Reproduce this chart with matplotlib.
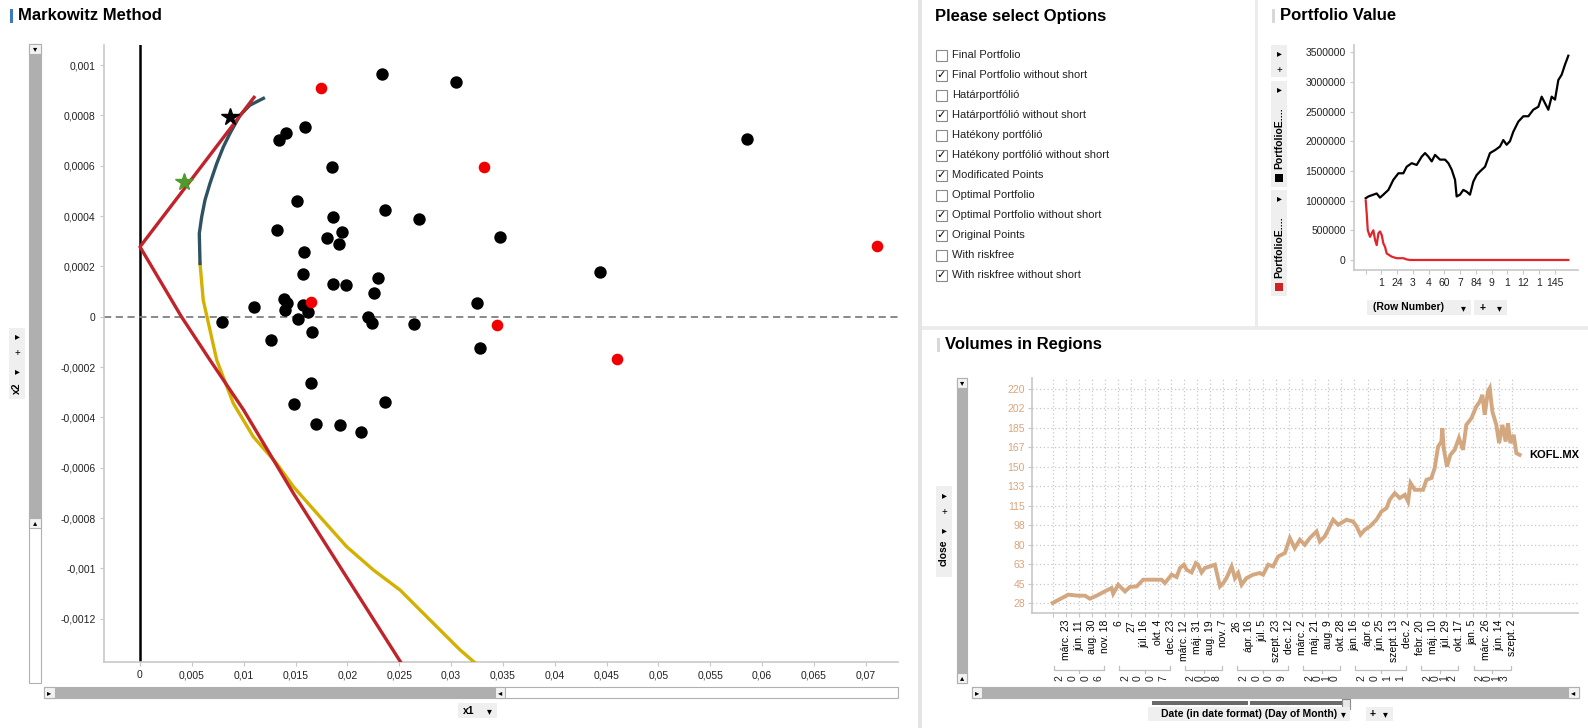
import numpy as np
import matplotlib
matplotlib.use("Agg")
import matplotlib.pyplot as plt
from matplotlib.patches import Rectangle
from matplotlib.ticker import FuncFormatter

plt.rcParams['font.family'] = ['Liberation Sans', 'DejaVu Sans']

# ───── Markowitz data ─────
orig_x = [0.02334, 0.0305, 0.01592, 0.01408, 0.01344, 0.01852, 0.01514, 0.02366, 0.02694, 0.01862,
          0.01322, 0.01952, 0.01807, 0.01920, 0.01582, 0.01572, 0.01865, 0.0199, 0.02296, 0.0226,
          0.01389, 0.01418, 0.011, 0.01576, 0.01399, 0.01624, 0.02203, 0.01524, 0.02241, 0.00794,
          0.02646, 0.01659, 0.01267, 0.05849, 0.03473, 0.0444, 0.03254, 0.03283, 0.0165, 0.01486,
          0.02366, 0.017, 0.01929, 0.02135]
orig_y = [0.000964, 0.000931, 0.000755, 0.000731, 0.000701, 0.000597, 0.000461, 0.000423, 0.000389, 0.000395,
          0.000343, 0.000335, 0.000314, 0.00029, 0.000256, 0.000171, 0.000131, 0.000125, 0.000153, 0.000093,
          0.000072, 0.000053, 0.000037, 0.000046, 0.000025, 0.000017, 0.0, -0.000009, -0.000026, -0.000022,
          -0.00003, -0.000062, -0.000094, 0.000705, 0.000315, 0.000176, 0.000053, -0.000126, -0.000265, -0.000348,
          -0.00034, -0.000428, -0.000432, -0.000459]
mod_x = [0.01746, 0.03322, 0.07103, 0.01653, 0.03447, 0.04603]
mod_y = [0.00091, 0.000594, 0.00028, 0.000057, -0.000034, -0.000169]

riskfree_x = [0.0110, 0.0, 0.0040, 0.00675, 0.0100, 0.0148, 0.0199, 0.0251, 0.0256]
riskfree_y = [0.000872, 0.000278, 0.0, -0.000172, -0.000371, -0.000702, -0.001033, -0.00137, -0.0014]
efficient_x = [0.00579, 0.00572, 0.00595, 0.00627, 0.00675, 0.0074, 0.00804, 0.00868, 0.00965, 0.01061, 0.0119]
efficient_y = [0.000212, 0.000331, 0.000397, 0.000464, 0.00053, 0.000609, 0.000675, 0.000729, 0.000801,
               0.000841, 0.000868]
frontier_x = [0.00579, 0.0061, 0.0074, 0.0090, 0.01093, 0.01318, 0.01479, 0.01736, 0.01994, 0.0225,
              0.02508, 0.02797, 0.03087, 0.0330]
frontier_y = [0.000212, 0.000066, -0.000172, -0.000344, -0.000477, -0.000583, -0.000675, -0.000795,
              -0.000914, -0.001006, -0.001086, -0.001205, -0.001324, -0.0014]
final_pt = (0.00868, 0.000795)
optimal_pt = (0.00427, 0.000536)

options = ["Final Portfolio", "Final Portfolio without short", "Határportfólió",
           "Határportfólió without short", "Hatékony portfólió", "Hatékony portfólió without short",
           "Modificated Points", "Optimal Portfolio", "Optimal Portfolio without short",
           "Original Points", "With riskfree", "With riskfree without short"]
checked = [False, True, False, True, False, True, True, False, True, True, False, True]

# ───── Portfolio value data ─────
pv_rows = [0, 25, 71, 102, 133, 164, 211, 257, 304, 350, 381, 428, 474, 521, 552, 583, 614, 645, 691, 738,
           769, 800, 831, 846, 877, 908, 939, 970, 1001, 1032, 1063, 1110, 1156, 1203, 1249, 1280, 1311, 1342,
           1373, 1420, 1466, 1513, 1559, 1606, 1637, 1668, 1699, 1730, 1761, 1792, 1823, 1854, 1885]
pv_black = [1040, 1070, 1100, 1120, 1050, 1100, 1180, 1350, 1460, 1460, 1570, 1630, 1600, 1740, 1800, 1740,
            1660, 1770, 1690, 1690, 1630, 1520, 1350, 1070, 1100, 1180, 1150, 1100, 1320, 1430, 1490, 1570,
            1800, 1850, 1910, 2020, 1940, 2000, 2160, 2330, 2420, 2420, 2530, 2580, 2750, 2640, 2530, 2750,
            2700, 3030, 3120, 3290, 3440]
pv_red_rows = [0, 9, 19, 40, 56, 71, 87, 102, 118, 133, 149, 164, 180, 195, 242, 288, 350, 381, 412, 1885]
pv_red = [1000, 790, 500, 390, 450, 500, 340, 250, 450, 480, 420, 280, 220, 110, 56, 30, 30, 10, 0, 0]
pv_tick_labels = ["", "1", "24", "3", "4", "60", "7", "84", "9", "1", "12", "1", "145"]

# ───── Volumes data (days since 2006-01-02) ─────
vol_days = [0, 95, 156, 197, 227, 268, 329, 359, 369, 400, 441, 471, 512, 552, 664, 684, 725, 756, 776, 800,
            817, 847, 873, 887, 908, 928, 959, 989, 1020, 1040, 1060, 1091, 1111, 1131, 1152, 1182, 1222, 1263,
            1283, 1314, 1344, 1375, 1416, 1446, 1476, 1507, 1537, 1568, 1609, 1629, 1659, 1680, 1710, 1741,
            1792, 1832, 1853, 1877, 1903, 1934, 1974, 2005, 2035, 2055, 2086, 2116, 2147, 2167, 2182, 2208,
            2258, 2279, 2309, 2329, 2350, 2370, 2376, 2384, 2404, 2425, 2451, 2477, 2502, 2522, 2553, 2583,
            2604, 2620, 2634, 2654, 2665, 2681, 2705, 2722, 2742, 2762, 2776, 2791, 2811, 2827, 2847]
vol_close = [28.4, 35.8, 34.9, 34.9, 32.2, 34.9, 39.6, 41.8, 36.7, 44.7, 38.7, 42.7, 43.2, 49.2, 49.2, 46.2,
             53.7, 51.6, 59.7, 62.6, 58.1, 55.7, 64.1, 62.6, 55.7, 59.7, 61.1, 62.6, 43.2, 46.2, 50.7, 61.1,
             50.7, 55.2, 44.7, 50.7, 53.7, 55.2, 53.7, 62.6, 61.1, 70.0, 73.1, 86.5, 77.5, 85.0, 80.5, 86.5,
             92.4, 83.5, 88.0, 93.9, 102.9, 98.4, 102.9, 101.3, 96.9, 89.5, 93.9, 96.9, 102.9, 110.3, 113.3,
             120.8, 126.7, 122.3, 125.2, 119.2, 135.7, 129.7, 129.7, 138.6, 140.2, 149.1, 168.4, 172.9, 184.9,
             167.0, 150.5, 161.0, 165.5, 176.0, 165.5, 187.8, 193.8, 204.2, 208.7, 214.7, 196.8, 217.7, 220.7,
             199.7, 187.8, 171.5, 187.8, 172.9, 189.3, 171.5, 178.9, 162.5, 161.0]
vol_ytick_labels = ["28", "45", "63", "80", "98", "115", "133", "150", "167", "185", "202", "220"]
vol_tick_labels = ["", "márc. 23", "jún. 11", "aug. 30", "nov. 18", "6", "27", "júl. 16", "okt. 4", "dec. 23",
                   "márc. 12", "máj. 31", "aug. 19", "nov. 7", "26", "ápr. 16", "júl. 5", "szept. 23", "dec. 12",
                   "márc. 2", "máj. 21", "aug. 9", "okt. 28", "jan. 16", "ápr. 6", "jún. 25", "szept. 13",
                   "dec. 2", "febr. 20", "máj. 10", "júl. 29", "okt. 17", "jan. 5", "márc. 26", "jún. 14",
                   "szept. 2"]
years = ["2006", "2007", "2008", "2009", "2010", "2011", "2012", "2013"]
year_first_tick = [0, 5, 10, 14, 19, 23, 28, 32]
year_last_tick = [4, 9, 13, 18, 22, 27, 31, 35]

# ───── Figure ─────
W, H = 1588, 728
fig = plt.figure(figsize=(W / 100, H / 100), dpi=100)

ov = fig.add_axes([0, 0, 1, 1])
ov.set_xlim(0, W)
ov.set_ylim(H, 0)
ov.axis('off')

def px_axes(x0, y0, x1, y1):
    return fig.add_axes([x0 / W, 1 - y1 / H, (x1 - x0) / W, (y1 - y0) / H])

def box(x0, y0, x1, y1, fc, ec='none', lw=0.8):
    ov.add_patch(Rectangle((x0, y0), x1 - x0, y1 - y0, facecolor=fc, edgecolor=ec, lw=lw))

def title(x, y, s, bar):
    box(x - 8, y - 7, x - 5, y + 7, bar)
    ov.text(x, y, s, fontsize=12, fontweight='bold', va='center', ha='left', color='black')

# panel dividers
box(918, 0, 922, H, '#E4E4E4')
box(922, 326, W, 330, '#ECECEC')
box(1255, 0, 1258, 326, '#ECECEC')

GRID = '#C8C8C8'
TXT = '#222222'
UI = '#AFAFAF'
UIBG = '#EFEFEF'

# ───── Markowitz panel ─────
title(18, 16, "Markowitz Method", '#3A78C2')

ax = px_axes(104, 45, 898, 662)
ax.set_xlim(-0.00347, 0.0731)
ax.set_ylim(-0.001372, 0.00108)
ax.axvline(0, color='black', lw=1.8, zorder=2)
ax.axhline(0, color='#808080', lw=1.3, ls=(0, (4, 2.5)), zorder=2)
ax.plot(frontier_x, frontier_y, color='#D4B100', lw=2.4, zorder=3)
ax.plot(efficient_x, efficient_y, color='#2F5262', lw=2.4, zorder=3)
ax.plot(riskfree_x, riskfree_y, color='#C0232A', lw=2.4, zorder=4)
ax.scatter(orig_x, orig_y, s=80, color='black', zorder=5, linewidths=0)
ax.scatter(mod_x, mod_y, s=70, color='#F00000', zorder=5, linewidths=0)
ax.plot(*final_pt, marker='*', ms=13, color='black', zorder=6)
ax.plot(*optimal_pt, marker='*', ms=13, color='#4E9A2A', zorder=6)

def comma_fmt(v, pos):
    if abs(v) < 1e-12:
        return '0'
    return f"{v:g}".replace('.', ',')

ax.set_xticks(np.round(np.arange(0, 15) * 0.005, 4))
ax.set_yticks(np.round(np.arange(-6, 6) * 0.0002, 5))
ax.xaxis.set_major_formatter(FuncFormatter(comma_fmt))
ax.yaxis.set_major_formatter(FuncFormatter(comma_fmt))
for s in ['top', 'right']:
    ax.spines[s].set_visible(False)
for s in ['left', 'bottom']:
    ax.spines[s].set_color(GRID)
    ax.spines[s].set_linewidth(1.2)
ax.tick_params(length=3, width=0.8, color=GRID, labelsize=7.5, labelcolor=TXT, pad=3)

# scrollbars and controls
box(29, 44, 41, 683, 'white', '#B0B0B0')
box(29, 54, 41, 518, UI)
box(29, 44, 41, 54, '#F2F2F2', '#B0B0B0')
box(29, 518, 41, 528, '#F2F2F2', '#B0B0B0')
ov.text(35, 49, '▾', fontsize=6, ha='center', va='center', family='DejaVu Sans')
ov.text(35, 523, '▴', fontsize=6, ha='center', va='center', family='DejaVu Sans')
box(9, 328, 25, 399, UIBG)
ov.text(17, 336, '▸', fontsize=7, ha='center', va='center', family='DejaVu Sans')
ov.text(17, 353, '+', fontsize=7, ha='center', va='center')
ov.text(17, 371, '▸', fontsize=7, ha='center', va='center', family='DejaVu Sans')
ov.text(17, 388, 'x2', fontsize=7.5, ha='center', va='center', rotation=90, fontweight='bold')

box(44, 687, 898, 698, 'white', '#B0B0B0')
box(44, 687, 495, 698, UI)
box(44, 687, 55, 698, '#F2F2F2', '#B0B0B0')
box(495, 687, 505, 698, '#F2F2F2', '#B0B0B0')
ov.text(49.5, 692.5, '▸', fontsize=6, ha='center', va='center', family='DejaVu Sans')
ov.text(500, 692.5, '◂', fontsize=6, ha='center', va='center', family='DejaVu Sans')
box(458, 703, 497, 718, UIBG)
ov.text(463, 710.5, 'x1', fontsize=7.5, fontweight='bold', va='center')
ov.text(489, 711, '▾', fontsize=7, ha='center', va='center', family='DejaVu Sans')

# ───── Options panel ─────
title(935, 16, "Please select Options", '#FFFFFF')
for i, (name, on) in enumerate(zip(options, checked)):
    yc = 55 + 20 * i
    box(936, yc - 5.5, 947, yc + 5.5, 'white', '#8A8A8A')
    if on:
        ov.text(941.5, yc, '✓', fontsize=8, ha='center', va='center', family='DejaVu Sans', color='black')
    ov.text(952, yc, name, fontsize=8, va='center', ha='left', color=TXT)

# ───── Portfolio value panel ─────
title(1280, 16, "Portfolio Value", '#D8D8D8')
pax = px_axes(1354, 45, 1578, 270)
pax.plot(pv_rows, np.array(pv_black) * 1000, color='black', lw=1.6)
pax.plot(pv_red_rows, np.array(pv_red) * 1000, color='#E0262B', lw=1.6)
pax.set_xlim(-109, 1975)
pax.set_ylim(-168500, 3620000)
pax.set_yticks(np.arange(0, 3500001, 500000))
pax.yaxis.set_major_formatter(FuncFormatter(lambda v, p: f"{int(v)}"))
pax.set_xticks(np.arange(len(pv_tick_labels)) * 146.5)
pax.set_xticklabels(pv_tick_labels)
for s in ['top', 'right']:
    pax.spines[s].set_visible(False)
for s in ['left', 'bottom']:
    pax.spines[s].set_color(GRID)
    pax.spines[s].set_linewidth(1.2)
pax.tick_params(length=3, width=0.8, color=GRID, labelsize=7.5, labelcolor=TXT, pad=3)

box(1271, 45, 1287, 77, UIBG)
ov.text(1279, 53, '▸', fontsize=7, ha='center', va='center', family='DejaVu Sans')
ov.text(1279, 70, '+', fontsize=7, ha='center', va='center')
for (y0, y1, col) in [(81, 187, 'black'), (190, 296, '#D42020')]:
    box(1271, y0, 1287, y1, UIBG)
    ov.text(1279, y0 + 8, '▸', fontsize=7, ha='center', va='center', family='DejaVu Sans')
    ov.text(1279, y1 - 18, 'PortfolioE....', fontsize=7.5, fontweight='bold', rotation=90,
            ha='center', va='bottom')
    box(1275, y1 - 13, 1283, y1 - 5, col)
box(1367, 300, 1471, 315, UIBG)
ov.text(1373, 307.5, '(Row Number)', fontsize=7.5, fontweight='bold', va='center')
ov.text(1463, 308, '▾', fontsize=7, ha='center', va='center', family='DejaVu Sans')
box(1474, 300, 1507, 315, UIBG)
ov.text(1483, 307.5, '+', fontsize=7.5, fontweight='bold', ha='center', va='center')
ov.text(1499, 308, '▾', fontsize=7, ha='center', va='center', family='DejaVu Sans')

# ───── Volumes panel ─────
title(945, 345, "Volumes in Regions", '#D8D8D8')
vax = px_axes(1032, 378, 1578, 613)
vax.plot(vol_days, vol_close, color='#D3A77F', lw=2.8, solid_joinstyle='miter')
vax.set_xlim(-126, 3203)
vax.set_ylim(19.4, 229.8)
vticks = np.arange(len(vol_tick_labels)) * 80
vax.set_xticks(vticks)
vax.set_xticklabels(vol_tick_labels, rotation=90, fontsize=7.5, color='black')
vax.set_yticks(np.linspace(28, 220, len(vol_ytick_labels)))
vax.set_yticklabels(vol_ytick_labels, fontsize=7.5, color='#D9A57C')
vax.grid(True, color='#C8C8C8', ls=(0, (1, 2)), lw=0.9)
for s in ['top', 'right']:
    vax.spines[s].set_visible(False)
for s in ['left', 'bottom']:
    vax.spines[s].set_color(GRID)
    vax.spines[s].set_linewidth(1.2)
vax.tick_params(length=3, width=0.8, color=GRID, pad=2)
vax.annotate("KOFL.MX", (vol_days[-1], vol_close[-1]), xytext=(7, 0), textcoords='offset points',
             fontsize=8, fontweight='bold', va='center', ha='left')

# year brackets under the date labels
for yr, k0, k1 in zip(years, year_first_tick, year_last_tick):
    xa, xb = vticks[k0] + 6, vticks[k1] - 6
    x0 = vax.transData.transform((xa, 0))[0]
    x1 = vax.transData.transform((xb, 0))[0]
    p0 = ov.transData.inverted().transform((x0, 0))[0]
    p1 = ov.transData.inverted().transform((x1, 0))[0]
    ov.plot([p0, p0, p1, p1], [666, 670, 670, 666], color='#C0C0C0', lw=0.9)
    ov.plot([(p0 + p1) / 2] * 2, [670, 673], color='#C0C0C0', lw=0.9)
    for j, ch in enumerate(yr):
        cx = p0 + 6 + j * (p1 - p0 - 12) / 3
        ov.text(cx, 678, ch, rotation=90, fontsize=7.5, ha='center', va='center', color=TXT)

# scrollbars and controls
box(957, 378, 967, 683, UI, '#B0B0B0')
box(957, 378, 967, 388, '#F2F2F2', '#B0B0B0')
box(957, 673, 967, 683, '#F2F2F2', '#B0B0B0')
ov.text(962, 383, '▾', fontsize=6, ha='center', va='center', family='DejaVu Sans')
ov.text(962, 678, '▴', fontsize=6, ha='center', va='center', family='DejaVu Sans')
box(936, 486, 952, 577, UIBG)
ov.text(944, 495, '▸', fontsize=7, ha='center', va='center', family='DejaVu Sans')
ov.text(944, 512, '+', fontsize=7, ha='center', va='center')
ov.text(944, 530, '▸', fontsize=7, ha='center', va='center', family='DejaVu Sans')
ov.text(944, 553, 'close', fontsize=7.5, ha='center', va='center', rotation=90, fontweight='bold')

box(972, 687, 1579, 698, UI, '#B0B0B0')
box(972, 687, 982, 698, '#F2F2F2', '#B0B0B0')
box(1568, 687, 1579, 698, '#F2F2F2', '#B0B0B0')
ov.text(977, 692.5, '▸', fontsize=6, ha='center', va='center', family='DejaVu Sans')
ov.text(1573.5, 692.5, '◂', fontsize=6, ha='center', va='center', family='DejaVu Sans')
box(1152, 701, 1248, 705, '#6A6A6A')
box(1250, 701, 1345, 705, '#6A6A6A')
box(1342, 699, 1350, 709, '#E8E8E8', '#8A8A8A')
box(1148, 707, 1350, 721, UIBG)
ov.text(1249, 714, 'Date (in date format) (Day of Month)', fontsize=7.5, fontweight='bold',
        ha='center', va='center')
ov.text(1343, 714.5, '▾', fontsize=7, ha='center', va='center', family='DejaVu Sans')
box(1366, 707, 1393, 721, UIBG)
ov.text(1373, 714, '+', fontsize=7.5, fontweight='bold', ha='center', va='center')
ov.text(1385, 714.5, '▾', fontsize=7, ha='center', va='center', family='DejaVu Sans')

fig.savefig('out.png', dpi=100)
